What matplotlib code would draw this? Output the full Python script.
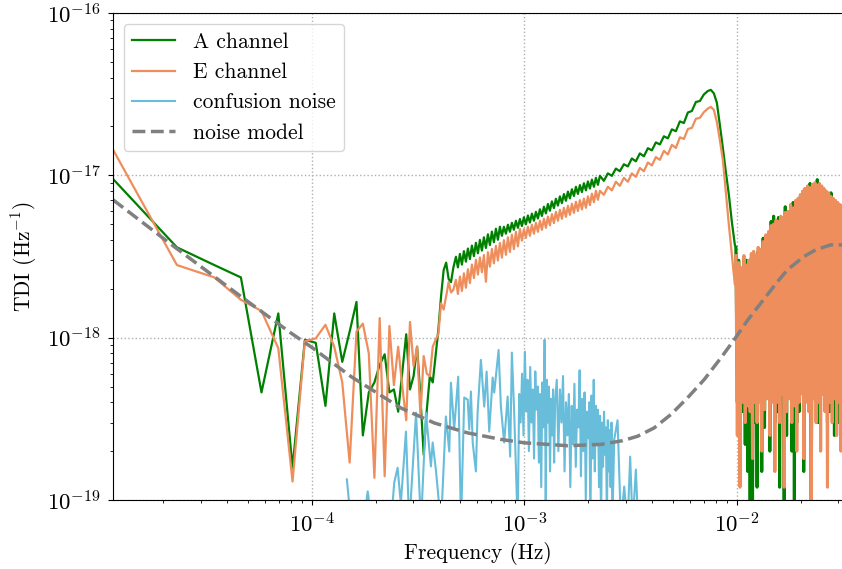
import matplotlib.pyplot as plt
import numpy as np

plt.rcParams['font.family'] = 'serif'
plt.rcParams['font.serif'] = ['cmr10']
plt.rcParams['mathtext.fontset'] = 'cm'
plt.rcParams['axes.formatter.use_mathtext'] = True
plt.rcParams['font.size'] = 15.5

df = 1.0 / 86400.0   # one day of data -> frequency resolution
unit = 1e-18         # values below are in units of 1e-18 Hz^-1

# lowest frequency bins (k * df), one value per bin
low_bins = list(range(1, 41))
a_low = [9.5, 3.6, 2.8, 2.35, 0.46, 1.41, 0.158, 0.97, 0.93, 0.38,
         1.41, 0.71, 1.09, 1.66, 0.25, 0.46, 0.53, 0.68, 0.79, 0.46,
         0.48, 0.35, 0.61, 1.05, 0.48, 0.58, 0.88, 0.43, 0.19, 0.36,
         0.58, 0.53, 0.77, 1.12, 1.79, 2.6, 2.9, 2.3, 2.2, 2.7]
e_low = [14.4, 2.8, 2.35, 1.71, 1.46, 0.86, 0.13, 0.95, 0.99, 1.2,
         0.88, 0.53, 0.17, 1.09, 1.22, 0.80, 0.137, 1.32, 0.14, 1.18,
         0.51, 0.88, 0.5, 0.31, 1.25, 0.67, 0.88, 0.33, 0.77, 0.6,
         0.58, 0.88, 0.97, 1.05, 1.63, 1.49, 1.8, 2.2, 1.9, 1.97]

# middle band (mHz)
mid_freq_mhz = [0.476, 0.4864, 0.4971, 0.508, 0.5191, 0.5305, 0.5421, 0.554, 0.5661, 0.5785,
                0.5912, 0.6042, 0.6174, 0.6309, 0.6447, 0.6589, 0.6733, 0.688, 0.7031, 0.7185,
                0.7343, 0.7504, 0.7668, 0.7836, 0.8008, 0.8183, 0.8363, 0.8546, 0.8733, 0.8924,
                0.912, 0.932, 0.9524, 0.9733, 0.9946, 1.0164, 1.0387, 1.0614, 1.0847, 1.1085,
                1.1328, 1.1576, 1.183, 1.2089, 1.2354, 1.2625, 1.2902, 1.3184, 1.3473, 1.3769,
                1.407, 1.4379, 1.4694, 1.5016, 1.5345, 1.5681, 1.6025, 1.6376, 1.6735, 1.7102,
                1.7477, 1.786, 1.8251, 1.8651, 1.906, 1.9478, 1.9905, 2.0341, 2.0787, 2.1242,
                2.1708, 2.2184, 2.267,
                2.366, 2.471, 2.581, 2.695, 2.814, 2.939, 3.069, 3.205, 3.347, 3.495,
                3.651, 3.813, 3.981, 4.157, 4.341, 4.535, 4.735, 4.945, 5.164, 5.394,
                5.632, 5.882, 6.142, 6.414, 6.698, 6.995, 7.304, 7.545, 7.795, 8.052,
                8.318, 8.593, 8.877, 9.171, 9.474, 9.786]
a_mid = [3.15, 2.71, 3.28, 2.82, 3.41, 2.94, 3.54, 3.05, 3.69, 3.18,
         3.84, 3.31, 4.0, 3.44, 4.15, 3.57, 4.33, 3.72, 4.50, 3.87,
         4.69, 4.01, 4.82, 4.24, 4.82, 4.37, 4.96, 4.49, 5.10, 4.62,
         5.25, 4.75, 5.38, 4.87, 5.52, 4.99, 5.66, 5.12, 5.81, 5.25,
         5.96, 5.42, 6.18, 5.62, 6.41, 5.83, 6.66, 6.05, 6.91, 6.28,
         7.17, 6.51, 7.42, 6.74, 7.67, 6.97, 7.94, 7.21, 8.21, 7.46,
         8.50, 7.68, 8.71, 7.88, 8.94, 8.08, 9.17, 8.29, 9.41, 8.50,
         9.65, 8.74, 9.93,
         9.25, 10.28, 9.93, 11.0, 10.6, 11.7, 11.35, 12.7, 12.2, 13.65,
         13.1, 14.7, 14.25, 15.95, 15.5, 17.4, 16.9, 19.2, 18.7, 21.5,
         21.0, 24.4, 24.9, 28.3, 28.7, 31.5, 33.1, 33.6, 32.0, 28.0,
         20.45, 14.75, 10.5, 7.59, 5.17, 3.73]
e_mid = [2.27, 1.86, 2.38, 1.94, 2.49, 2.03, 2.64, 2.17, 2.82, 2.33,
         3.02, 2.45, 3.12, 2.53, 3.23, 2.21, 3.36, 2.74, 3.52, 2.87,
         3.68, 2.99, 3.83, 3.11, 3.99, 3.24, 4.15, 3.37, 4.31, 3.51,
         4.49, 3.65, 4.67, 3.96, 4.66, 4.12, 4.82, 4.24, 4.96, 4.37,
         5.10, 4.49, 5.25, 4.62, 5.40, 4.75, 5.57, 4.92, 5.76, 5.08,
         5.96, 5.25, 6.13, 5.40, 6.31, 5.55, 6.49, 5.71, 6.68, 5.87,
         6.87, 6.03, 7.03, 6.17, 7.19, 6.31, 7.42, 6.56, 7.71, 6.83,
         8.03, 7.07, 8.03,
         7.59, 8.50, 8.08, 9.13, 8.62, 9.65, 9.13, 10.28, 9.79, 11.1,
         10.6, 12.0, 11.5, 12.95, 12.46, 14.15, 13.45, 15.4, 14.75, 17.15,
         16.75, 19.3, 19.6, 22.3, 22.6, 24.5, 25.8, 26.4, 25.3, 21.3,
         16.5, 12.46, 7.89, 4.96, 3.24, 2.12]

# high band (mHz), strongly fluctuating
high_freq_mhz = [9.9, 10.05, 10.2, 10.35, 10.5, 10.65, 10.8, 10.95, 11.1, 11.25,
                 11.4, 11.55, 11.7, 11.85, 12.0, 12.15, 12.3, 12.45, 12.6, 12.75,
                 12.9, 13.1, 13.3, 13.5, 13.7, 13.9, 14.1, 14.3, 14.5, 14.7,
                 14.9, 15.1, 15.3, 15.5, 15.7, 15.9, 16.1, 16.3, 16.5, 16.7,
                 16.9, 17.15, 17.4, 17.65, 17.9, 18.15, 18.4, 18.65, 18.9, 19.15,
                 19.4, 19.65, 19.9, 20.15, 20.4, 20.65, 20.9, 21.2, 21.5, 21.8,
                 22.1, 22.4, 22.7, 23.0, 23.3, 23.6, 23.9, 24.2, 24.5, 24.8,
                 25.1, 25.4, 25.7, 26.0, 26.35, 26.7, 27.05, 27.4, 27.75, 28.1,
                 28.45, 28.8, 29.15, 29.5, 29.85, 30.2, 30.55, 30.9, 31.25, 31.6]
a_high = [3.6, 0.4, 3.0, 0.3, 2.6, 0.35, 3.0, 0.22, 3.0, 0.15,
          2.8, 0.1, 3.1, 0.08, 3.3, 0.3, 3.0, 0.12, 3.4, 0.5,
          3.3, 0.15, 4.1, 0.28, 4.0, 0.45, 4.3, 0.2, 5.2, 0.5,
          5.6, 0.3, 5.1, 0.35, 5.5, 0.12, 5.3, 0.55, 5.2, 0.09,
          6.4, 0.25, 5.8, 0.6, 6.3, 0.2, 6.8, 0.1, 6.7, 0.3,
          6.9, 0.35, 7.4, 0.5, 7.6, 0.15, 8.0, 0.7, 8.3, 0.4,
          8.9, 0.08, 8.5, 0.5, 8.7, 0.45, 9.4, 0.3, 8.6, 0.6,
          8.3, 0.45, 8.0, 0.55, 7.7, 0.3, 7.5, 0.35, 7.8, 0.5,
          6.9, 0.25, 6.7, 0.4, 6.5, 0.3, 6.3, 0.35, 6.2, 0.3]
e_high = [3.2, 0.25, 2.9, 0.12, 2.7, 0.4, 3.2, 0.3, 2.8, 0.38,
          3.0, 0.35, 3.3, 0.18, 3.4, 0.4, 3.2, 0.3, 3.6, 0.4,
          3.5, 0.2, 3.9, 0.36, 4.3, 0.42, 4.5, 0.25, 4.9, 0.4,
          5.0, 0.15, 5.3, 0.4, 5.2, 0.3, 5.6, 0.45, 5.5, 0.12,
          5.9, 0.35, 6.0, 0.42, 6.6, 0.3, 6.3, 0.38, 7.0, 0.2,
          7.2, 0.4, 7.6, 0.45, 8.0, 0.18, 8.3, 0.4, 8.6, 0.35,
          8.4, 0.1, 8.8, 0.42, 9.0, 0.3, 8.7, 0.4, 8.9, 0.2,
          8.6, 0.45, 8.3, 0.35, 8.0, 0.12, 7.8, 0.4, 7.4, 0.3,
          7.2, 0.42, 7.0, 0.25, 6.8, 0.4, 6.6, 0.2, 6.5, 0.35]

# galactic confusion noise (mHz)
conf_freq_mhz = [0.146, 0.153, 0.174, 0.183, 0.192, 0.235, 0.244, 0.253, 0.262, 0.277,
                 0.287, 0.309, 0.326, 0.344, 0.363, 0.370, 0.383, 0.405, 0.427, 0.443,
                 0.451, 0.467, 0.488, 0.503, 0.521, 0.541, 0.550, 0.560, 0.571, 0.591,
                 0.602, 0.624, 0.647, 0.664, 0.683, 0.709, 0.721, 0.756, 0.775, 0.803,
                 0.834, 0.857, 0.873, 0.895,
                 0.93, 0.945, 0.96, 0.975, 0.99, 1.005, 1.02, 1.035, 1.05, 1.065,
                 1.08, 1.095, 1.11, 1.125, 1.14, 1.155, 1.17, 1.185, 1.2, 1.215,
                 1.23, 1.245, 1.26, 1.275, 1.29, 1.305, 1.32, 1.335, 1.35, 1.365,
                 1.38, 1.395,
                 1.42, 1.445, 1.47, 1.495, 1.52, 1.545, 1.57, 1.595, 1.62, 1.645,
                 1.67, 1.695, 1.72, 1.745, 1.77, 1.795, 1.82, 1.845, 1.87, 1.895,
                 1.92, 1.945, 1.97, 1.995, 2.02, 2.045, 2.07, 2.095, 2.12, 2.145,
                 2.17, 2.195, 2.22, 2.245, 2.27, 2.295, 2.32, 2.345, 2.37, 2.395,
                 2.42, 2.445, 2.47, 2.495, 2.52, 2.545, 2.57, 2.595,
                 2.646, 2.745, 2.846, 2.949, 3.060, 3.147, 3.230, 3.347, 3.431]
conf_val = [0.134, 0.07, 0.07, 0.113, 0.07, 0.07, 0.128, 0.158, 0.095, 0.264,
            0.07, 0.345, 0.07, 0.345, 0.161, 0.226, 0.154, 0.07, 0.327, 0.199,
            0.528, 0.272, 0.575, 0.07, 0.428, 0.415, 0.272, 0.466, 0.226, 0.15,
            0.345, 0.73, 0.376, 0.618, 0.264, 0.568, 0.459, 0.84, 0.376, 0.226,
            0.434, 0.185, 0.809, 0.351,
            0.07, 0.45, 0.30, 0.60, 0.25, 0.82, 0.35, 0.55, 0.20, 0.66,
            0.30, 0.48, 0.18, 0.62, 0.36, 0.50, 0.17, 0.45, 0.12, 0.53,
            0.28, 0.97, 0.10, 0.55, 0.30, 0.50, 0.15, 0.42, 0.25, 0.48,
            0.17, 0.40,
            0.55, 0.20, 0.48, 0.30, 0.58, 0.15, 0.40, 0.25, 0.45, 0.12,
            0.38, 0.22, 0.52, 0.16, 0.36, 0.28, 0.63, 0.14, 0.42, 0.20,
            0.46, 0.10, 0.35, 0.24, 0.40, 0.07, 0.44, 0.18, 0.55, 0.15,
            0.38, 0.22, 0.36, 0.12, 0.33, 0.07, 0.30, 0.16, 0.35, 0.19,
            0.28, 0.07, 0.31, 0.15, 0.27, 0.12, 0.30, 0.07,
            0.235, 0.31, 0.07, 0.121, 0.07, 0.185, 0.07, 0.154, 0.07]

# analytic noise model (mHz)
model_freq_mhz = [0.01157, 0.0225, 0.0464, 0.0795, 0.1, 0.153, 0.262, 0.377, 0.541, 0.779,
                  1.0, 1.6, 2.29, 2.9, 3.41, 4.08, 4.89, 5.86, 7.02, 8.41,
                  9.71, 11.23, 15.4, 17.3, 20.7, 23.5, 27.7, 31.6]
model_val = [7.07, 3.63, 1.79, 1.07, 0.87, 0.575, 0.369, 0.298, 0.259, 0.236,
             0.225, 0.216, 0.22, 0.232, 0.247, 0.278, 0.336, 0.426, 0.552, 0.75,
             0.97, 1.28, 2.18, 2.62, 3.16, 3.48, 3.73, 3.73]

x_ticks = [1e-4, 1e-3, 1e-2]
y_ticks = [1e-19, 1e-18, 1e-17, 1e-16]

freq_low = np.array(low_bins) * df
freq_ch = np.concatenate([freq_low, np.array(mid_freq_mhz) * 1e-3, np.array(high_freq_mhz) * 1e-3])
a_chan = np.concatenate([a_low, a_mid, a_high]) * unit
e_chan = np.concatenate([e_low, e_mid, e_high]) * unit
f_high = np.array(high_freq_mhz) * 1e-3

fig = plt.figure(figsize=(8.42, 5.69), dpi=100)
ax = fig.add_axes([113 / 842, 69 / 569, 730 / 842, 487 / 569])

c_a, c_e, c_c = 'green', '#ee8e5c', '#67bdda'
ax.loglog(freq_ch, a_chan, color=c_a, lw=1.6, label='A channel')
ax.loglog(f_high, np.array(a_high) * unit, color=c_a, lw=2.2)
ax.loglog(freq_ch, e_chan, color=c_e, lw=1.6, label='E channel')
ax.loglog(f_high, np.array(e_high) * unit, color=c_e, lw=2.2)
ax.loglog(np.array(conf_freq_mhz) * 1e-3, np.array(conf_val) * unit, color=c_c,
          lw=1.5, label='confusion noise')
ax.loglog(np.array(model_freq_mhz) * 1e-3, np.array(model_val) * unit, color='gray',
          lw=2.5, ls='--', label='noise model')

ax.set_xlim(df, 0.0316)
ax.set_ylim(1e-19, 1e-16)
ax.set_xticks(x_ticks)
ax.set_yticks(y_ticks)
ax.set_xlabel('Frequency (Hz)')
ax.set_ylabel(r'TDI (Hz$^{-1}$)', labelpad=6)
ax.grid(True, which='major', ls=':', color='#b0b0b0', lw=1)
ax.tick_params(which='both', direction='out')
ax.tick_params(which='major', labelsize=16.5, pad=5)
ax.legend(loc='upper left')

fig.savefig('out.png', dpi=100)
